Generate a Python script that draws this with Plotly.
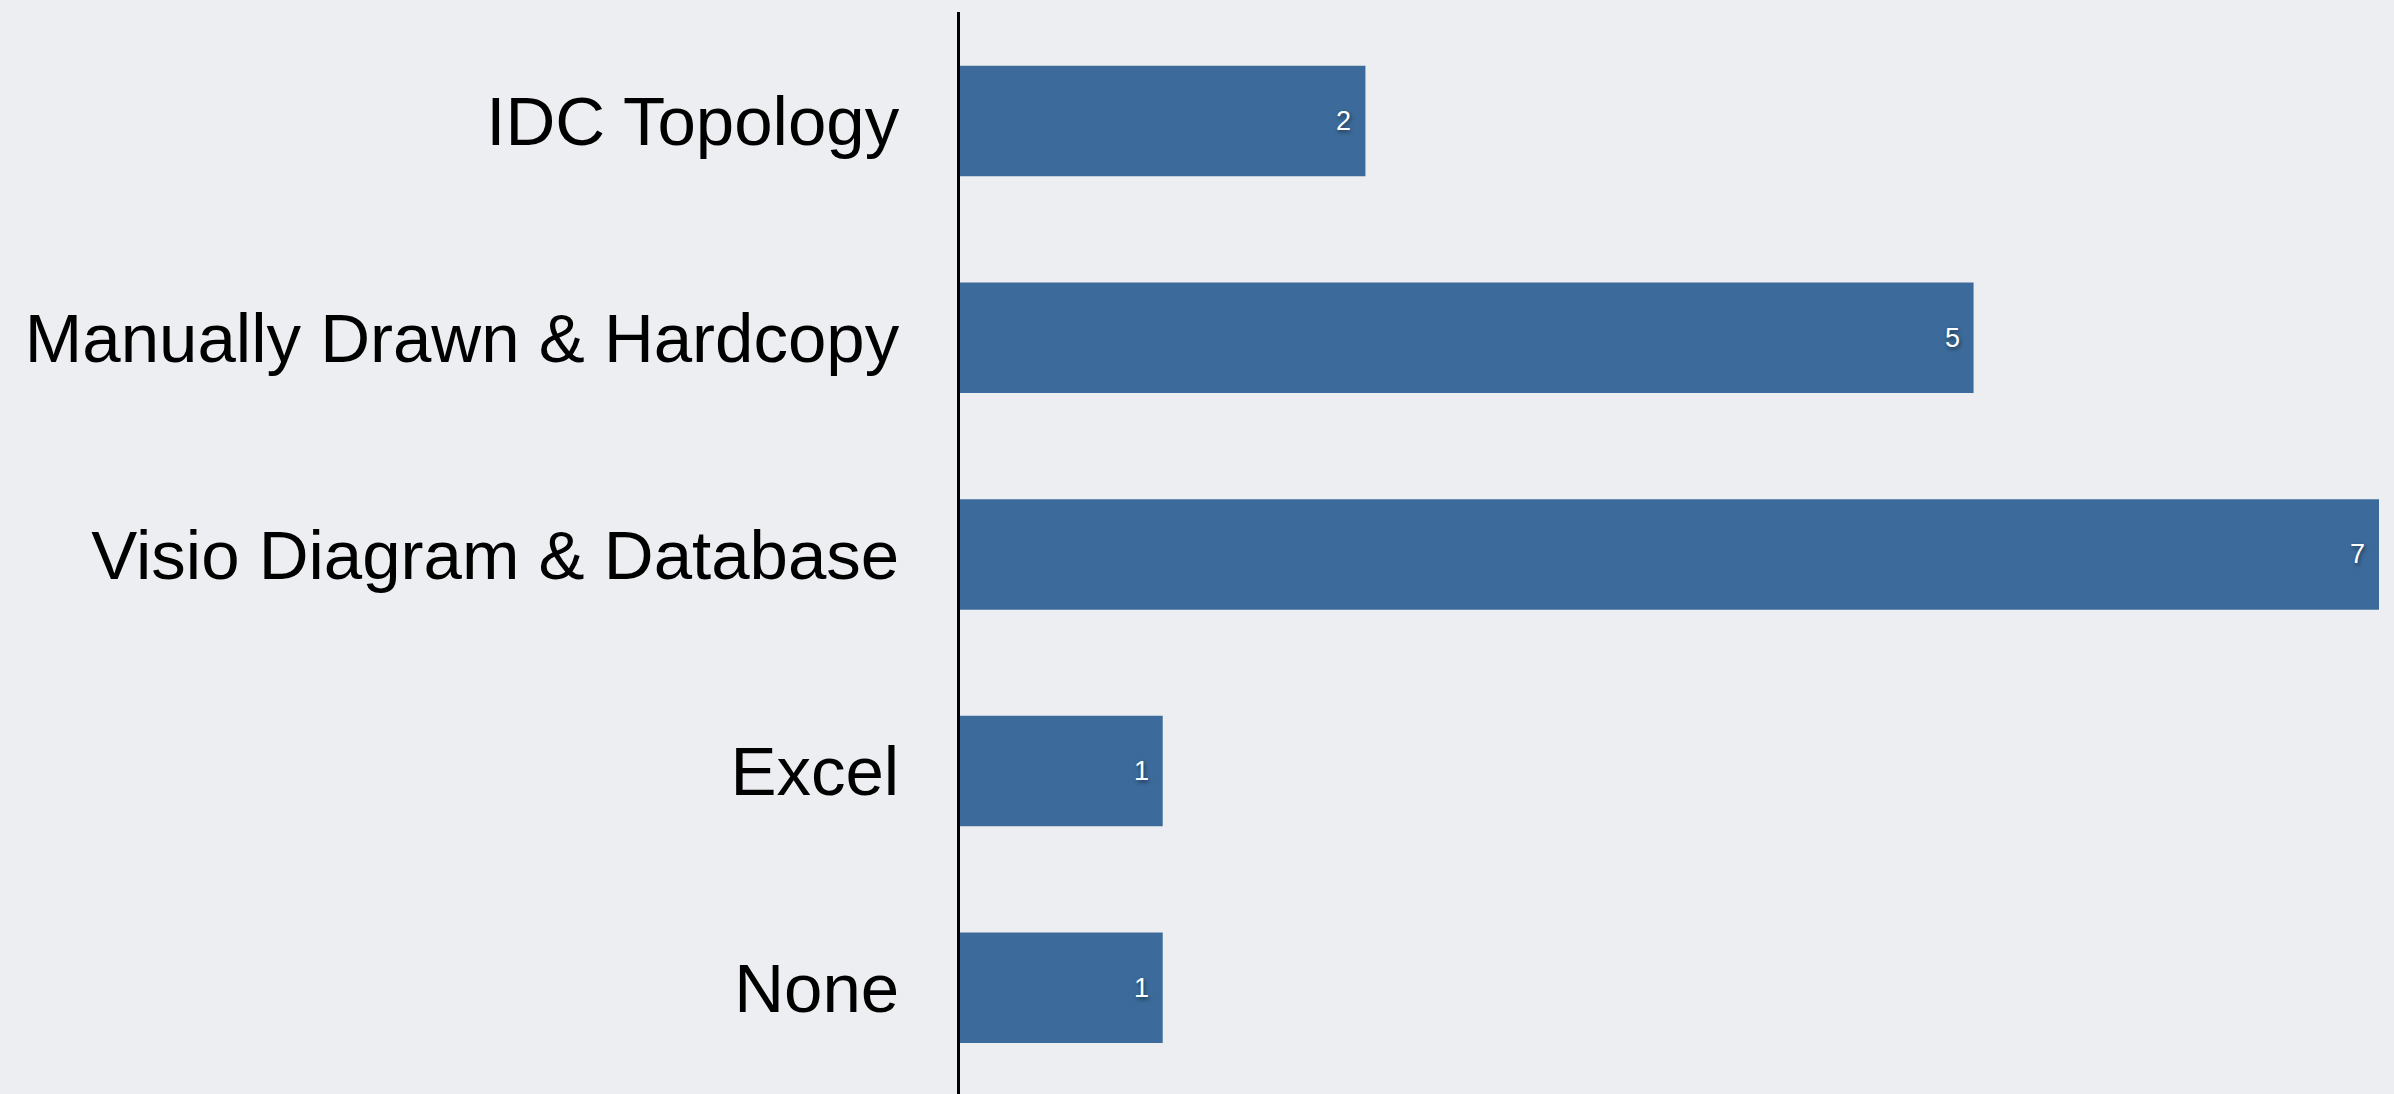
import plotly.graph_objects as go

categories = ["IDC Topology", "Manually Drawn & Hardcopy", "Visio Diagram & Database", "Excel", "None"]
values = [2, 5, 7, 1, 1]

fig = go.Figure(go.Bar(
    x=values,
    y=categories,
    orientation="h",
    marker=dict(color="#3C6B9B", line=dict(width=0)),
    width=0.51,
    hoverinfo="skip",
))

for c, v in zip(categories, values):
    fig.add_annotation(
        x=v, y=c, text=str(v), showarrow=False,
        xanchor="right", xshift=-12, yanchor="middle",
        font=dict(color="white", size=27, family="Liberation Sans", shadow="1px 2px 4px rgba(0,0,0,0.55)"),
    )

fig.update_layout(
    width=2394, height=1094,
    margin=dict(l=960, r=15, t=12, b=0),
    paper_bgcolor="#EDEEF1",
    plot_bgcolor="#EDEEF1",
    showlegend=False,
    font=dict(family="Liberation Sans", color="black"),
)
fig.update_xaxes(range=[0, 7], visible=False, showgrid=False, zeroline=False)
fig.update_yaxes(
    categoryorder="array", categoryarray=categories[::-1],
    range=[-0.49, 4.503],
    showgrid=False, zeroline=False,
    showline=True, linecolor="black", linewidth=3,
    ticks="", ticklabelstandoff=44,
    tickfont=dict(size=69, color="black", family="Liberation Sans"),
)

fig.write_html(
    "out.html",
    config={"displayModeBar": False},
    post_script="document.body.style.margin='0';document.body.style.overflow='hidden';document.body.style.background='#EDEEF1';",
)
